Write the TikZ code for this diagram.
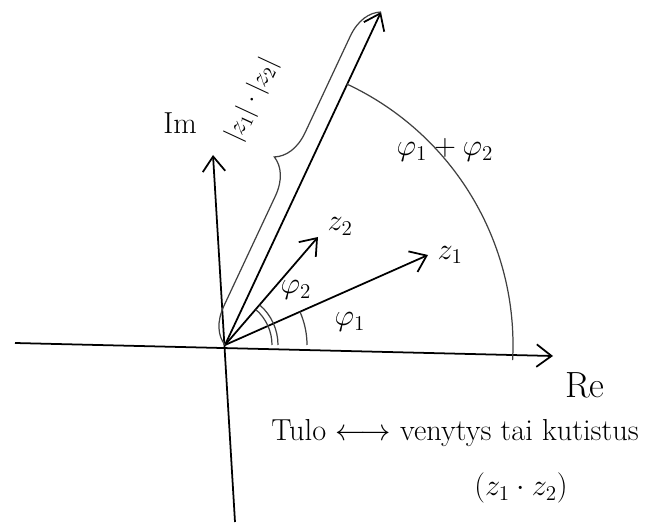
\documentclass[tikz,border=0pt]{standalone}
\usepackage{amsmath,amssymb}
\usetikzlibrary{arrows.meta,decorations.pathreplacing,positioning}

\begin{document}
\begin{tikzpicture}[x=0.02cm, y=0.02cm, node distance=2pt, every node/.style={font=\LARGE}]
\tikzstyle{pen}=[line width=1pt, >={Straight Barb[length=3mm,width=4.5mm]}]
\tikzstyle{pencil}=[line width=0.7pt, black!75]
\useasboundingbox (0,0) rectangle (670,528);
\coordinate (O) at (225,183);
\coordinate (west) at (15,185);
\coordinate (east) at (553,172);
\coordinate (south) at (235,6);
\coordinate (north) at (213,373);
\coordinate (prod) at (381,516);
\coordinate (z2) at (318,291);
\coordinate (z1) at (428,273);
% axes and vectors
\draw[pen,->] (west)--(east);
\draw[pen,->] (south)--(north);
\draw[pen,->] (O)--(prod);
\draw[pen,->] (O)--(z2);
\draw[pen,->] (O)--(z1);
\draw[pencil, decorate, decoration={brace, amplitude=20pt, aspect=0.52}] (O)--(prod);
% angles
\draw[pencil] (O) ++(0:82) arc (0:24:82);
\draw[pencil] (O) ++(0:47) arc (0:49:47);
\draw[pencil] (O) ++(0:53) arc (0:49:53);
\draw[pencil] (O) ++(65:288) arc (65:-3:288);
% labels
\node (im) at (180,405) {Im};
\node[font=\huge] (re) at (585,143) {Re};
\node[right=of z2, yshift=6pt] (labz2) {$z_2$};
\node[right=of z1] (labz1) {$z_1$};
\node[rotate=65, inner sep=0pt, font=\Large] (modulus) at (252,428) {$|z_1|\cdot|z_2|$};
\node (sum) at (445,378) {$\varphi_1+\varphi_2$};
\node (phi2) at (296,238) {$\varphi_2$};
\node (phi1) at (350,206) {$\varphi_1$};
\node (tulo) at (455,95) {Tulo $\longleftrightarrow$ venytys tai kutistus};
\node (pair) at (521,40) {$(z_1\cdot z_2)$};
\end{tikzpicture}
\end{document}
